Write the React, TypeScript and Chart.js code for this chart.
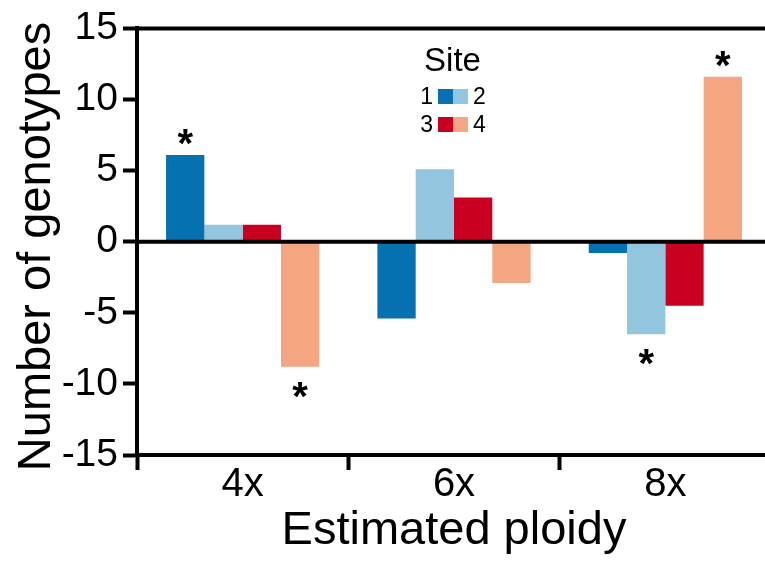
import { useEffect, useRef } from "react";
import { Chart, registerables } from "chart.js";

Chart.register(...registerables);

const FONT = "'Liberation Sans', Arial, Helvetica, sans-serif";

// ---- data ----
const ploidyLevels = ["4x", "6x", "8x"];
const siteLabels = ["1", "2", "3", "4"];
const siteColors = ["#0571b0", "#92c5de", "#ca0020", "#f4a582"];
const site1Values = [6.1, -5.4, -0.8];
const site2Values = [1.2, 5.1, -6.5];
const site3Values = [1.2, 3.1, -4.5];
const site4Values = [-8.8, -2.9, 11.6];
const site1Signif = [true, false, false];
const site2Signif = [false, false, true];
const site3Signif = [false, false, false];
const site4Signif = [true, false, true];
const yMin = -15;
const yMax = 15;
const yStep = 5;
const yTitle = "Number of genotypes";
const xTitle = "Estimated ploidy";
const legendTitle = "Site";

const seriesValues = [site1Values, site2Values, site3Values, site4Values];
const seriesSignif = [site1Signif, site2Signif, site3Signif, site4Signif];

const overlayPlugin = {
  id: "overlay",
  afterDatasetsDraw(chart: any) {
    const { ctx, chartArea } = chart;
    const y = chart.scales.y;
    ctx.save();
    // zero line and top frame line
    ctx.strokeStyle = "#000";
    ctx.lineWidth = 4;
    const y0 = y.getPixelForValue(0);
    ctx.beginPath();
    ctx.moveTo(chartArea.left, y0);
    ctx.lineTo(chartArea.right, y0);
    ctx.stroke();
    const yT = y.getPixelForValue(yMax);
    ctx.beginPath();
    ctx.moveTo(chartArea.left - 2, yT);
    ctx.lineTo(chartArea.right, yT);
    ctx.stroke();

    // asterisks
    ctx.fillStyle = "#000";
    ctx.font = `bold 40px ${FONT}`;
    ctx.textAlign = "center";
    ctx.textBaseline = "alphabetic";
    const m = ctx.measureText("*");
    const asc = m.actualBoundingBoxAscent;
    const desc = m.actualBoundingBoxDescent;
    const gh = asc + desc;
    chart.data.datasets.forEach((ds: any, i: number) => {
      const meta = chart.getDatasetMeta(i);
      seriesSignif[i].forEach((s, j) => {
        if (!s) return;
        const bar: any = meta.data[j];
        const v = ds.data[j];
        const cy = v >= 0 ? bar.y - 10 - gh / 2 : bar.y + 15 + gh / 2;
        const baseline = cy - (desc - asc) / 2;
        ctx.fillText("*", bar.x, baseline);
      });
    });

    // legend
    ctx.textBaseline = "alphabetic";
    ctx.font = `33px ${FONT}`;
    ctx.textAlign = "center";
    ctx.fillText(legendTitle, 452.5, 71);
    ctx.font = `23px ${FONT}`;
    const rows = [
      [0, 1],
      [2, 3],
    ];
    rows.forEach((pair, r) => {
      const top = 89 + r * 28;
      const boxW = 15;
      const boxH = 15;
      ctx.fillStyle = siteColors[pair[0]];
      ctx.fillRect(438, top, boxW, boxH);
      ctx.fillStyle = siteColors[pair[1]];
      ctx.fillRect(438 + boxW, top, boxW, boxH);
      ctx.fillStyle = "#000";
      ctx.textAlign = "right";
      ctx.fillText(siteLabels[pair[0]], 433, top + boxH);
      ctx.textAlign = "left";
      ctx.fillText(siteLabels[pair[1]], 473, top + boxH);
    });

    // y axis title
    ctx.font = `47px ${FONT}`;
    ctx.textAlign = "center";
    ctx.textBaseline = "alphabetic";
    ctx.translate(50, 246.5);
    ctx.rotate(-Math.PI / 2);
    ctx.fillText(yTitle, 0, 0);
    ctx.restore();
  },
};

export default function App() {
  const canvasRef = useRef<HTMLCanvasElement | null>(null);

  useEffect(() => {
    if (!canvasRef.current) return;
    const chart = new Chart(canvasRef.current, {
      type: "bar",
      data: {
        labels: ploidyLevels,
        datasets: seriesValues.map((vals, i) => ({
          label: siteLabels[i],
          data: vals,
          backgroundColor: siteColors[i],
          borderWidth: 0,
          barPercentage: 1,
          categoryPercentage: 0.725,
        })),
      },
      options: {
        responsive: false,
        animation: false,
        devicePixelRatio: 1,
        layout: { padding: { top: 26, left: 0, right: 0, bottom: 0 } },
        plugins: {
          legend: { display: false },
          tooltip: { enabled: false },
        },
        scales: {
          x: {
            offset: true,
            grid: {
              offset: true,
              drawOnChartArea: false,
              drawTicks: true,
              tickLength: 15,
              tickWidth: 4,
              tickColor: "#000",
            },
            border: { display: true, color: "#000", width: 4 },
            ticks: {
              color: "#000",
              font: { family: FONT, size: 40, lineHeight: 1 },
              padding: -5,
              maxRotation: 0,
            },
            title: {
              display: true,
              text: xTitle,
              color: "#000",
              font: { family: FONT, size: 47 },
              padding: { top: 0, bottom: 2 },
            },
            afterFit(scale: any) {
              scale.height = 106;
            },
          },
          y: {
            min: yMin,
            max: yMax,
            grid: {
              drawOnChartArea: false,
              drawTicks: true,
              tickLength: 14,
              tickWidth: 4,
              tickColor: "#000",
            },
            border: { display: true, color: "#000", width: 4 },
            ticks: {
              stepSize: yStep,
              color: "#000",
              font: { family: FONT, size: 39 },
              padding: 5,
            },
            afterFit(scale: any) {
              scale.width = 137;
            },
          },
        },
      },
      plugins: [overlayPlugin],
    });
    return () => chart.destroy();
  }, []);

  return (
    <div
      style={{
        position: "fixed",
        left: 0,
        top: 0,
        width: 765,
        height: 561,
        overflow: "hidden",
        background: "#fff",
      }}
    >
      <canvas
        ref={canvasRef}
        width={771}
        height={561}
        style={{ width: 771, height: 561, display: "block" }}
      />
    </div>
  );
}
